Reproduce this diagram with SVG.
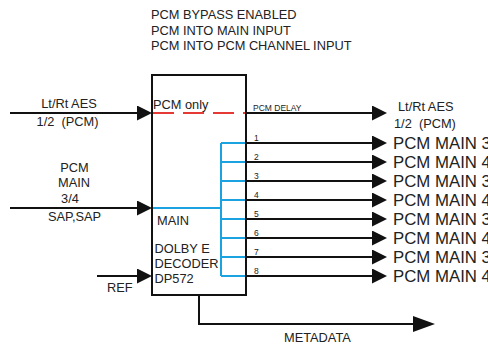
<svg xmlns="http://www.w3.org/2000/svg" width="488" height="344" viewBox="0 0 488 344">
<defs>
<style>
text{font-family:"Liberation Sans",Arial,sans-serif;fill:#222;white-space:pre}
.t{font-size:12.8px}
.s{font-size:8.5px}
.o{font-size:16.8px}
.ln{stroke:#111;stroke-width:2;fill:none}
.bl{stroke:#1aa3e0;stroke-width:2;fill:none}
.rd{stroke:#e53935;stroke-width:2;stroke-dasharray:21 9;fill:none}
</style>
<marker id="ah" markerUnits="userSpaceOnUse" viewBox="0 0 15 15" refX="10" refY="7.5" markerWidth="15" markerHeight="15" orient="auto">
<path d="M0,0 L15,7.5 L0,15 z" fill="#111"/>
</marker>
<marker id="ahl" markerUnits="userSpaceOnUse" viewBox="0 0 22 16" refX="17" refY="8" markerWidth="22" markerHeight="16" orient="auto">
<path d="M0,0 L22,8 L0,16 z" fill="#111"/>
</marker>
</defs>
<rect width="488" height="344" fill="#fff"/>

<g id="title">
<text class="t" x="151" y="19">PCM BYPASS ENABLED</text>
<text class="t" x="151" y="34.5">PCM INTO MAIN INPUT</text>
<text class="t" x="151" y="50">PCM INTO PCM CHANNEL INPUT</text>
</g>

<g id="connectors">
<line class="ln" x1="10" y1="113" x2="147" y2="113" marker-end="url(#ah)"/>
<line class="ln" x1="10" y1="208" x2="147" y2="208" marker-end="url(#ah)"/>
<line class="ln" x1="97" y1="276" x2="147" y2="276" marker-end="url(#ah)"/>
<line class="rd" x1="153" y1="113" x2="245" y2="113"/>
<line class="ln" x1="246" y1="113" x2="382" y2="113" marker-end="url(#ah)"/>
<path class="bl" d="M153,208 H221 M221,143 V276 M221,143 H245 M221,162 H245 M221,181 H245 M221,200 H245 M221,219 H245 M221,238 H245 M221,257 H245 M221,276 H245"/>
<line class="ln" x1="246" y1="143" x2="382" y2="143" marker-end="url(#ah)"/>
<line class="ln" x1="246" y1="162" x2="382" y2="162" marker-end="url(#ah)"/>
<line class="ln" x1="246" y1="181" x2="382" y2="181" marker-end="url(#ah)"/>
<line class="ln" x1="246" y1="200" x2="382" y2="200" marker-end="url(#ah)"/>
<line class="ln" x1="246" y1="219" x2="382" y2="219" marker-end="url(#ah)"/>
<line class="ln" x1="246" y1="238" x2="382" y2="238" marker-end="url(#ah)"/>
<line class="ln" x1="246" y1="257" x2="382" y2="257" marker-end="url(#ah)"/>
<line class="ln" x1="246" y1="276" x2="382" y2="276" marker-end="url(#ah)"/>
<path class="ln" d="M199,295 V324 H430" marker-end="url(#ahl)"/>
<text class="s" x="253" y="110.5">PCM DELAY</text>
<text class="s" x="254" y="141">1</text>
<text class="s" x="254" y="160">2</text>
<text class="s" x="254" y="179">3</text>
<text class="s" x="254" y="198">4</text>
<text class="s" x="254" y="217">5</text>
<text class="s" x="254" y="236">6</text>
<text class="s" x="254" y="255">7</text>
<text class="s" x="254" y="274">8</text>
</g>

<g id="decoder">
<rect x="152" y="75" width="94" height="220" fill="none" stroke="#111" stroke-width="2"/>
<text class="t" x="153" y="108.5">PCM only</text>
<text class="t" x="157" y="224.5">MAIN</text>
<text class="t" x="154.5" y="253">DOLBY E</text>
<text class="t" x="154.5" y="268">DECODER</text>
<text class="t" x="154.5" y="283">DP572</text>
</g>

<g id="in-pcm">
<text class="t" x="69" y="108" text-anchor="middle">Lt/Rt AES</text>
<text class="t" x="67.5" y="125.5" text-anchor="middle">1/2  (PCM)</text>
</g>

<g id="in-main">
<text class="t" x="74.5" y="171.5" text-anchor="middle">PCM</text>
<text class="t" x="74" y="187" text-anchor="middle">MAIN</text>
<text class="t" x="70" y="202.5" text-anchor="middle">3/4</text>
<text class="t" x="74.5" y="220.5" text-anchor="middle">SAP,SAP</text>
</g>

<g id="in-ref">
<text class="t" x="107" y="292">REF</text>
</g>

<g id="out-pcm">
<text class="t" x="398" y="111">Lt/Rt AES</text>
<text class="t" x="394" y="128">1/2  (PCM)</text>
</g>

<g id="outputs">
<text class="o" x="393" y="149">PCM MAIN 3</text>
<text class="o" x="393" y="168">PCM MAIN 4</text>
<text class="o" x="393" y="187">PCM MAIN 3</text>
<text class="o" x="393" y="206">PCM MAIN 4</text>
<text class="o" x="393" y="225">PCM MAIN 3</text>
<text class="o" x="393" y="244">PCM MAIN 4</text>
<text class="o" x="393" y="263">PCM MAIN 3</text>
<text class="o" x="393" y="282">PCM MAIN 4</text>
</g>

<g id="metadata">
<text class="t" x="284" y="342">METADATA</text>
</g>
</svg>
